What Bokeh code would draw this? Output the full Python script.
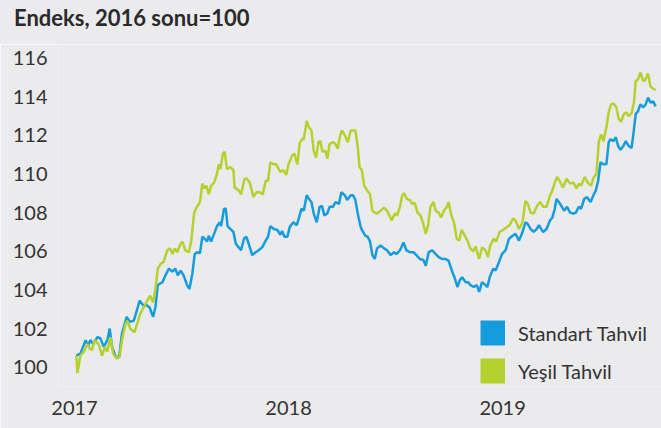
from datetime import datetime
import pandas as pd
from bokeh.plotting import figure
from bokeh.layouts import column
from bokeh.models import (Range1d, FixedTicker, DatetimeTickFormatter, Legend, LegendItem,
                          ColumnDataSource, Div)
from bokeh.embed import file_html
from bokeh.resources import INLINE

# ---------------- data ----------------
title_text = "Endeks, 2016 sonu=100"
series_names = ["Standart Tahvil", "Yeşil Tahvil"]
y_ticks = [100, 102, 104, 106, 108, 110, 112, 114, 116]
year_ticks = ["2017-01-01", "2018-01-01", "2019-01-01"]

standart_dates = [
    "2017-01-04", "2017-01-11", "2017-01-20", "2017-01-24", "2017-01-28", "2017-02-02", "2017-02-09", "2017-02-14", "2017-02-20", "2017-02-26",
    "2017-03-02", "2017-03-06", "2017-03-12", "2017-03-18", "2017-03-23", "2017-03-31", "2017-04-05", "2017-04-12", "2017-04-18", "2017-04-22",
    "2017-04-28", "2017-05-04", "2017-05-09", "2017-05-15", "2017-05-19", "2017-05-23", "2017-05-31", "2017-06-05", "2017-06-11", "2017-06-17",
    "2017-06-22", "2017-06-26", "2017-07-01", "2017-07-06", "2017-07-12", "2017-07-16", "2017-07-21", "2017-07-25", "2017-07-29", "2017-08-03",
    "2017-08-07", "2017-08-11", "2017-08-15", "2017-08-18", "2017-08-22", "2017-08-27", "2017-09-01", "2017-09-06", "2017-09-08", "2017-09-13",
    "2017-09-16", "2017-09-19", "2017-09-24", "2017-09-29", "2017-10-03", "2017-10-08", "2017-10-12", "2017-10-17", "2017-10-21", "2017-10-25",
    "2017-10-31", "2017-11-06", "2017-11-11", "2017-11-17", "2017-11-23", "2017-11-27", "2017-12-01", "2017-12-07", "2017-12-13", "2017-12-18",
    "2017-12-21", "2017-12-25", "2017-12-30", "2018-01-03", "2018-01-09", "2018-01-15", "2018-01-19", "2018-01-23", "2018-01-27", "2018-02-01",
    "2018-02-05", "2018-02-09", "2018-02-13", "2018-02-18", "2018-02-23", "2018-02-27", "2018-03-03", "2018-03-08", "2018-03-12", "2018-03-18",
    "2018-03-22", "2018-03-28", "2018-04-01", "2018-04-07", "2018-04-11", "2018-04-17", "2018-04-21", "2018-04-25", "2018-04-29", "2018-05-04",
    "2018-05-08", "2018-05-12", "2018-05-16", "2018-05-20", "2018-05-24", "2018-05-28", "2018-06-01", "2018-06-07", "2018-06-13", "2018-06-18",
    "2018-06-24", "2018-06-30", "2018-07-04", "2018-07-10", "2018-07-16", "2018-07-21", "2018-07-27", "2018-08-02", "2018-08-07", "2018-08-13",
    "2018-08-19", "2018-08-23", "2018-08-28", "2018-09-03", "2018-09-09", "2018-09-14", "2018-09-20", "2018-09-26", "2018-10-01", "2018-10-07",
    "2018-10-11", "2018-10-16", "2018-10-20", "2018-10-24", "2018-10-30", "2018-11-03", "2018-11-07", "2018-11-13", "2018-11-18", "2018-11-22",
    "2018-11-27", "2018-12-01", "2018-12-06", "2018-12-10", "2018-12-16", "2018-12-20", "2018-12-26", "2018-12-31", "2019-01-06", "2019-01-12",
    "2019-01-18", "2019-01-23", "2019-01-29", "2019-02-04", "2019-02-09", "2019-02-13", "2019-02-18", "2019-02-23", "2019-02-28", "2019-03-04",
    "2019-03-08", "2019-03-11", "2019-03-17", "2019-03-23", "2019-03-27", "2019-03-31", "2019-04-03", "2019-04-07", "2019-04-16", "2019-04-21",
    "2019-04-26", "2019-05-02", "2019-05-06", "2019-05-11", "2019-05-15", "2019-05-20", "2019-05-25", "2019-05-31", "2019-06-05", "2019-06-09",
    "2019-06-13", "2019-06-17", "2019-06-22", "2019-06-27", "2019-07-01", "2019-07-04", "2019-07-09", "2019-07-13", "2019-07-17", "2019-07-21",
    "2019-07-26", "2019-07-30", "2019-08-04", "2019-08-09", "2019-08-12", "2019-08-16", "2019-08-20", "2019-08-24", "2019-08-29", "2019-09-02",
    "2019-09-06", "2019-09-10", "2019-09-15", "2019-09-19",
]
standart_values = [
    100.6, 100.7, 101.4, 101.1, 101.4, 101.2, 101.55, 101.5, 101.05, 101.4,
    102.0, 101.05, 100.55, 100.5, 101.75, 102.6, 102.35, 102.4, 103.0, 103.45,
    103.2, 103.2, 103.1, 102.6, 103.1, 104.25, 104.4, 104.75, 105.1, 104.95,
    105.1, 104.75, 105.0, 104.75, 104.25, 104.05, 104.85, 105.85, 105.95, 105.9,
    106.75, 106.65, 106.5, 106.8, 106.5, 106.9, 107.3, 107.5, 107.3, 108.2,
    108.2, 107.3, 107.15, 107.0, 106.4, 106.2, 106.05, 106.65, 106.75, 106.4,
    105.8, 105.95, 106.05, 106.2, 106.55, 106.75, 107.3, 107.15, 107.1, 106.85,
    107.05, 106.75, 106.75, 107.25, 107.5, 107.35, 107.75, 108.2, 108.1, 108.9,
    108.7, 108.55, 107.95, 107.5, 108.3, 108.35, 107.85, 107.95, 108.3, 108.3,
    108.55, 108.45, 109.05, 108.9, 108.65, 108.9, 108.9, 108.65, 107.95, 107.25,
    107.0, 106.8, 106.75, 106.5, 105.8, 105.6, 106.15, 106.3, 106.15, 106.05,
    105.8, 105.95, 105.85, 106.05, 106.45, 106.05, 105.95, 105.95, 105.8, 105.6,
    105.55, 105.25, 105.95, 106.05, 105.85, 105.7, 105.6, 105.6, 105.5, 104.95,
    104.65, 104.15, 104.5, 104.65, 104.4, 104.4, 104.25, 104.15, 104.25, 103.9,
    104.4, 104.3, 104.15, 104.65, 105.1, 105.0, 105.45, 105.85, 106.05, 106.65,
    106.8, 106.9, 106.55, 107.0, 107.5, 107.4, 107.15, 107.0, 107.15, 107.35,
    107.15, 107.0, 107.15, 107.6, 107.75, 108.2, 108.7, 108.55, 108.1, 108.3,
    108.0, 107.95, 108.0, 108.3, 108.2, 108.7, 108.8, 108.55, 108.9, 109.15,
    109.65, 110.6, 110.5, 110.5, 111.65, 111.8, 111.7, 111.9, 111.45, 111.25,
    111.45, 111.7, 111.45, 111.35, 112.05, 113.1, 113.25, 113.6, 113.45, 113.6,
    113.95, 113.7, 113.75, 113.5,
]

yesil_dates = [
    "2017-01-04", "2017-01-06", "2017-01-11", "2017-01-17", "2017-01-23", "2017-01-27", "2017-01-31", "2017-02-04", "2017-02-11", "2017-02-17",
    "2017-02-22", "2017-02-26", "2017-03-03", "2017-03-08", "2017-03-14", "2017-03-19", "2017-03-23", "2017-03-29", "2017-04-01", "2017-04-06",
    "2017-04-13", "2017-04-18", "2017-04-23", "2017-04-29", "2017-05-05", "2017-05-10", "2017-05-15", "2017-05-19", "2017-05-23", "2017-05-28",
    "2017-06-02", "2017-06-08", "2017-06-13", "2017-06-17", "2017-06-21", "2017-06-25", "2017-07-01", "2017-07-04", "2017-07-09", "2017-07-15",
    "2017-07-19", "2017-07-24", "2017-07-29", "2017-08-03", "2017-08-07", "2017-08-11", "2017-08-14", "2017-08-18", "2017-08-22", "2017-08-27",
    "2017-09-01", "2017-09-04", "2017-09-07", "2017-09-11", "2017-09-14", "2017-09-18", "2017-09-24", "2017-09-29", "2017-10-01", "2017-10-08",
    "2017-10-12", "2017-10-18", "2017-10-22", "2017-10-27", "2017-11-02", "2017-11-07", "2017-11-13", "2017-11-18", "2017-11-23", "2017-11-27",
    "2017-12-01", "2017-12-07", "2017-12-11", "2017-12-18", "2017-12-23", "2017-12-28", "2018-01-01", "2018-01-07", "2018-01-11", "2018-01-16",
    "2018-01-20", "2018-01-24", "2018-01-27", "2018-02-01", "2018-02-05", "2018-02-09", "2018-02-13", "2018-02-17", "2018-02-21", "2018-02-24",
    "2018-02-28", "2018-03-05", "2018-03-08", "2018-03-12", "2018-03-18", "2018-03-22", "2018-03-26", "2018-03-30", "2018-04-02", "2018-04-07",
    "2018-04-12", "2018-04-17", "2018-04-21", "2018-04-25", "2018-04-29", "2018-05-02", "2018-05-06", "2018-05-10", "2018-05-15", "2018-05-20",
    "2018-05-24", "2018-05-28", "2018-06-01", "2018-06-07", "2018-06-13", "2018-06-18", "2018-06-22", "2018-06-26", "2018-07-01", "2018-07-05",
    "2018-07-10", "2018-07-14", "2018-07-17", "2018-07-22", "2018-07-27", "2018-07-31", "2018-08-04", "2018-08-09", "2018-08-14", "2018-08-19",
    "2018-08-23", "2018-08-27", "2018-08-31", "2018-09-05", "2018-09-09", "2018-09-14", "2018-09-18", "2018-09-23", "2018-09-28", "2018-10-01",
    "2018-10-05", "2018-10-10", "2018-10-15", "2018-10-19", "2018-10-23", "2018-10-27", "2018-11-02", "2018-11-07", "2018-11-12", "2018-11-16",
    "2018-11-22", "2018-11-27", "2018-12-03", "2018-12-07", "2018-12-11", "2018-12-17", "2018-12-21", "2018-12-27", "2019-01-02", "2019-01-08",
    "2019-01-13", "2019-01-19", "2019-01-23", "2019-01-29", "2019-02-04", "2019-02-09", "2019-02-13", "2019-02-18", "2019-02-23", "2019-03-01",
    "2019-03-06", "2019-03-11", "2019-03-17", "2019-03-23", "2019-03-27", "2019-03-31", "2019-04-04", "2019-04-08", "2019-04-14", "2019-04-20",
    "2019-04-26", "2019-05-02", "2019-05-07", "2019-05-11", "2019-05-15", "2019-05-21", "2019-05-26", "2019-06-01", "2019-06-05", "2019-06-10",
    "2019-06-14", "2019-06-18", "2019-06-22", "2019-06-27", "2019-07-01", "2019-07-05", "2019-07-09", "2019-07-14", "2019-07-18", "2019-07-22",
    "2019-07-27", "2019-07-31", "2019-08-04", "2019-08-09", "2019-08-13", "2019-08-16", "2019-08-20", "2019-08-24", "2019-08-29", "2019-09-02",
    "2019-09-06", "2019-09-10", "2019-09-15", "2019-09-19",
]
yesil_values = [
    100.6, 99.7, 100.6, 100.8, 101.2, 100.95, 100.9, 101.4, 101.2, 100.6,
    101.05, 100.8, 101.55, 100.7, 100.45, 100.55, 101.4, 102.25, 102.4, 102.0,
    101.8, 102.25, 102.75, 103.1, 103.45, 103.7, 103.35, 104.05, 105.1, 105.35,
    105.45, 106.05, 106.15, 105.85, 106.15, 105.95, 106.4, 106.5, 106.05, 105.95,
    106.5, 108.0, 108.3, 108.55, 109.5, 109.25, 109.4, 108.95, 109.4, 109.55,
    110.0, 110.5, 110.25, 111.05, 111.15, 110.25, 110.35, 110.2, 109.3, 109.15,
    108.95, 109.75, 109.75, 109.55, 108.8, 109.05, 109.05, 108.95, 109.65, 109.65,
    110.6, 110.5, 110.5, 110.1, 110.2, 109.95, 110.5, 110.95, 111.05, 110.5,
    111.6, 111.8, 111.8, 112.75, 112.4, 112.25, 111.2, 110.85, 111.65, 111.7,
    111.15, 111.2, 110.8, 111.55, 111.65, 111.55, 111.3, 112.0, 112.25, 112.0,
    111.65, 112.25, 112.25, 112.25, 111.4, 110.35, 110.2, 109.4, 109.15, 108.95,
    108.1, 108.0, 107.95, 108.1, 108.25, 108.1, 107.85, 107.6, 107.95, 107.85,
    108.3, 108.9, 109.0, 108.7, 108.65, 108.45, 108.5, 108.0, 107.85, 107.4,
    106.9, 107.35, 108.3, 108.55, 108.1, 108.0, 107.75, 108.1, 108.3, 108.55,
    107.95, 107.5, 106.65, 106.55, 107.1, 106.9, 106.55, 106.15, 106.0, 106.25,
    105.6, 106.2, 106.05, 105.7, 106.3, 106.65, 106.5, 107.0, 107.1, 107.25,
    107.35, 107.7, 107.6, 107.15, 107.5, 108.6, 108.45, 108.0, 107.95, 108.35,
    108.55, 108.3, 108.3, 108.9, 109.15, 109.55, 109.85, 109.65, 109.3, 109.75,
    109.5, 109.55, 109.25, 109.5, 109.4, 109.85, 109.55, 109.4, 109.8, 110.0,
    111.65, 112.05, 111.7, 112.4, 113.2, 113.6, 113.65, 113.45, 112.85, 112.7,
    113.1, 113.2, 113.0, 113.15, 113.7, 114.8, 114.9, 115.25, 114.8, 114.9,
    115.2, 114.55, 114.4, 114.35,
]

# ---------------- styling ----------------
BG = "#ebebed"
BLUE = "#159cdc"
GREEN = "#b4d12e"
TEXT = "#333333"
FONT = "Lato"

blue_src = ColumnDataSource(dict(date=pd.to_datetime(standart_dates), value=standart_values))
green_src = ColumnDataSource(dict(date=pd.to_datetime(yesil_dates), value=yesil_values))

# title strip above the plot
title_div = Div(
    text=(f'<div style="font-family: Lato, sans-serif; font-weight: bold; font-size: 22px; '
          f'line-height: 26px; color: #2a2a2a; padding: 5px 0 0 14px; white-space: nowrap;">'
          f'{title_text}</div>'),
    width=661, height=44, margin=0, styles={"background-color": BG})

p = figure(width=661, height=384, output_backend="svg", toolbar_location=None,
           x_axis_type="datetime",
           x_range=Range1d(datetime(2016, 12, 4, 17), datetime(2019, 9, 29)),
           y_range=Range1d(99.0, 116.7),
           min_border_left=58, min_border_right=0, min_border_top=0, min_border_bottom=42,
           margin=0)
p.background_fill_color = BG
p.border_fill_color = BG
p.outline_line_color = None
p.grid.visible = False

p.line("date", "value", source=blue_src, line_color=BLUE, line_width=2.5)
p.line("date", "value", source=green_src, line_color=GREEN, line_width=2.5)

# axes
p.yaxis.ticker = FixedTicker(ticks=y_ticks)
p.xaxis.ticker = FixedTicker(ticks=[pd.Timestamp(t).value / 1e6 for t in year_ticks])
p.xaxis.formatter = DatetimeTickFormatter(years="%Y", months="%Y", days="%Y", hours="%Y",
                                          hourmin="%Y", minutes="%Y", minsec="%Y",
                                          seconds="%Y", milliseconds="%Y", microseconds="%Y")
for ax in (p.xaxis, p.yaxis):
    ax.axis_line_color = None
    ax.major_tick_line_color = None
    ax.minor_tick_line_color = None
    ax.major_tick_out = 0
    ax.minor_tick_out = 0
    ax.major_label_text_font = FONT
    ax.major_label_text_font_size = "20px"
    ax.major_label_text_color = TEXT
p.yaxis.major_label_standoff = 11
p.xaxis.major_label_standoff = 14

# legend with square swatches: one-point line renderers (a single point draws
# nothing in the plot, but gives the legend a swatch in the series colour)
blue_key = ColumnDataSource(dict(date=pd.to_datetime(standart_dates[:1]), value=standart_values[:1]))
green_key = ColumnDataSource(dict(date=pd.to_datetime(yesil_dates[:1]), value=yesil_values[:1]))
sw_blue = p.line("date", "value", source=blue_key, line_color=BLUE, line_width=25, line_cap="butt")
sw_green = p.line("date", "value", source=green_key, line_color=GREEN, line_width=25, line_cap="butt")
legend = Legend(items=[LegendItem(label=series_names[0], renderers=[sw_blue]),
                       LegendItem(label=series_names[1], renderers=[sw_green])],
                location=(422, 0), orientation="vertical",
                glyph_width=25, glyph_height=31, spacing=7, padding=0, margin=0,
                label_standoff=13, label_text_font=FONT, label_text_font_size="20px",
                label_text_color=TEXT, border_line_color=None, background_fill_alpha=0)
p.add_layout(legend, "center")

page = column(title_div, p, spacing=0, margin=0)
open("out.html", "w").write(file_html(page, INLINE))
